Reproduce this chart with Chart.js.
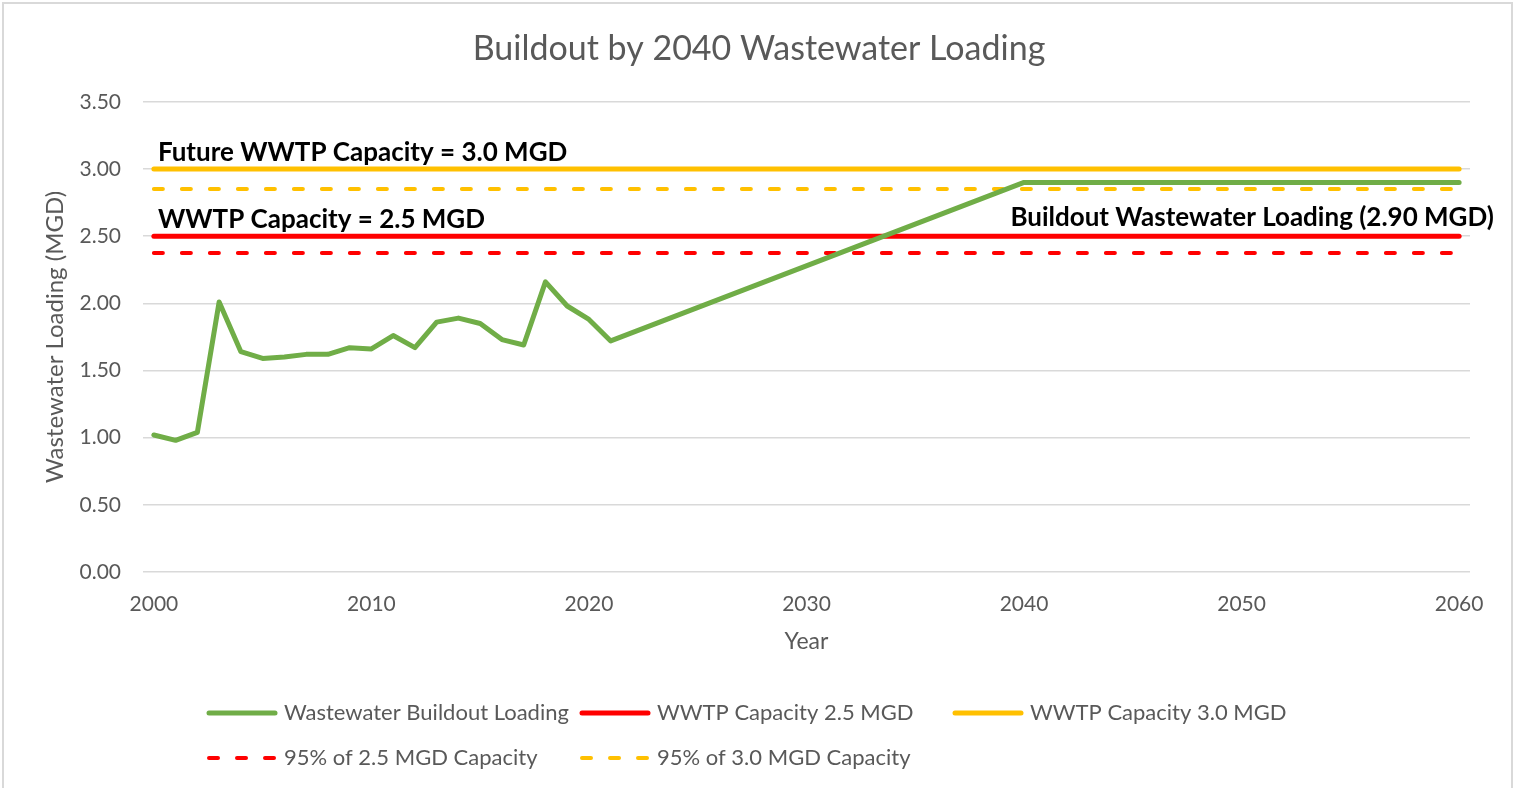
<!DOCTYPE html>
<html>
<head>
<meta charset="utf-8">
<script src="https://cdn.jsdelivr.net/npm/chart.js@4"></script>
<style>
  body { margin: 0; background: #fff; }
  #wrap { position: relative; width: 1518px; height: 788px; }
</style>
</head>
<body>
<div id="wrap"><canvas id="chart" width="1518" height="788"></canvas></div>
<script>
// data
const years = [2000, 2001, 2002, 2003, 2004, 2005, 2006, 2007, 2008, 2009, 2010,
  2011, 2012, 2013, 2014, 2015, 2016, 2017, 2018, 2019, 2020, 2021, 2040, 2060];
const loading = [1.02, 0.98, 1.04, 2.01, 1.64, 1.59, 1.60, 1.62, 1.62, 1.67, 1.66,
  1.76, 1.67, 1.86, 1.89, 1.85, 1.73, 1.69, 2.16, 1.98, 1.88, 1.72, 2.90, 2.90];
const lineYears = [2000, 2060];
const capacity25 = [2.5, 2.5];
const capacity30 = [3.0, 3.0];
const pct95of25 = [2.375, 2.375];
const pct95of30 = [2.85, 2.85];
const xTicks = [2000, 2010, 2020, 2030, 2040, 2050, 2060];

const FONT = 'Lato, "Open Sans", sans-serif';
const GREY = '#595959';

function pts(xs, ys) {
  return xs.map((x, i) => ({ x: x, y: ys[i] }));
}

// labels written on the plot
const notes = [
  { text: 'Future WWTP Capacity = 3.0 MGD', x: 2000, y: 3.125, align: 'left' },
  { text: 'WWTP Capacity = 2.5 MGD', x: 2000, y: 2.625, align: 'left' },
  { text: 'Buildout Wastewater Loading (2.90 MGD)', x: 2061.6, y: 2.64, align: 'right' }
];

const notesPlugin = {
  id: 'notes',
  afterDatasetsDraw(chart) {
    const ctx = chart.ctx;
    const xs = chart.scales.x, ys = chart.scales.y;
    ctx.save();
    ctx.font = 'bold 26px ' + FONT;
    ctx.fillStyle = '#000';
    ctx.textBaseline = 'middle';
    notes.forEach(n => {
      ctx.textAlign = n.align;
      let px = xs.getPixelForValue(n.x);
      if (n.align === 'left') px += 4;
      ctx.fillText(n.text, px, ys.getPixelForValue(n.y));
    });
    ctx.restore();
  }
};

// legend laid out on a grid like the original
const legendPlugin = {
  id: 'gridLegend',
  afterDraw(chart) {
    const ctx = chart.ctx;
    const cols = [207, 580, 953];
    const rows = [713, 758];
    ctx.save();
    ctx.font = '22px ' + FONT;
    ctx.fillStyle = GREY;
    ctx.textBaseline = 'middle';
    chart.data.datasets.forEach((ds, i) => {
      const x = cols[i % 3], y = rows[Math.floor(i / 3)];
      ctx.beginPath();
      ctx.strokeStyle = ds.borderColor;
      ctx.lineWidth = ds.borderWidth;
      ctx.lineCap = 'round';
      ctx.setLineDash(ds.borderDash || []);
      ctx.moveTo(x + 2, y);
      ctx.lineTo(x + 68, y);
      ctx.stroke();
      ctx.setLineDash([]);
      ctx.fillText(ds.label, x + 77, y);
    });
    ctx.restore();
  }
};

const framePlugin = {
  id: 'frame',
  beforeDraw(chart) {
    const ctx = chart.ctx;
    ctx.save();
    ctx.fillStyle = '#fff';
    ctx.fillRect(0, 0, chart.width, chart.height);
    ctx.strokeStyle = '#d9d9d9';
    ctx.lineWidth = 2;
    ctx.strokeRect(3, 3, 1509, 820);
    ctx.restore();
  }
};

const dash = [9, 19];

new Chart(document.getElementById('chart'), {
  type: 'line',
  data: {
    datasets: [
      { label: 'Wastewater Buildout Loading', data: pts(years, loading), borderColor: '#70AD47', borderWidth: 5, order: 1 },
      { label: 'WWTP Capacity 2.5 MGD', data: pts(lineYears, capacity25), borderColor: '#FF0000', borderWidth: 5, order: 2 },
      { label: 'WWTP Capacity 3.0 MGD', data: pts(lineYears, capacity30), borderColor: '#FFC000', borderWidth: 5, order: 3 },
      { label: '95% of 2.5 MGD Capacity', data: pts(lineYears, pct95of25), borderColor: '#FF0000', borderWidth: 4, borderDash: dash, order: 4 },
      { label: '95% of 3.0 MGD Capacity', data: pts(lineYears, pct95of30), borderColor: '#FFC000', borderWidth: 4, borderDash: dash, order: 5 }
    ]
  },
  options: {
    responsive: false,
    animation: false,
    layout: { padding: { left: 48, right: 48, top: 0, bottom: 111 } },
    elements: {
      point: { radius: 0 },
      line: { tension: 0, borderCapStyle: 'round', borderJoinStyle: 'round' }
    },
    plugins: {
      legend: { display: false },
      tooltip: { enabled: false },
      title: {
        display: true,
        text: 'Buildout by 2040 Wastewater Loading',
        color: GREY,
        font: { family: FONT, size: 34, weight: 'normal' },
        padding: { top: 29, bottom: 32 }
      }
    },
    scales: {
      x: {
        type: 'linear',
        min: 1999.5,
        max: 2060.5,
        afterBuildTicks: s => { s.ticks = xTicks.map(v => ({ value: v })); },
        afterFit: s => { s.height = 105; },
        grid: { display: false },
        border: { display: false },
        ticks: { color: GREY, font: { family: FONT, size: 21 }, padding: 12, maxRotation: 0, autoSkip: false, callback: v => String(v) },
        title: { display: true, text: 'Year', color: GREY, font: { family: FONT, size: 23 }, padding: { top: 0, bottom: 22 } }
      },
      y: {
        min: 0,
        max: 3.5,
        afterFit: s => { s.width = 95; },
        grid: { color: '#d9d9d9', lineWidth: 1.5, drawTicks: false },
        border: { display: false },
        ticks: { stepSize: 0.5, color: GREY, font: { family: FONT, size: 21 }, padding: 22, callback: v => v.toFixed(2) },
        title: { display: true, text: 'Wastewater Loading (MGD)', color: GREY, font: { family: FONT, size: 24, lineHeight: 0.6 }, padding: { top: 0, bottom: 0 } }
      }
    }
  },
  plugins: [framePlugin, notesPlugin, legendPlugin]
});
</script>
</body>
</html>
